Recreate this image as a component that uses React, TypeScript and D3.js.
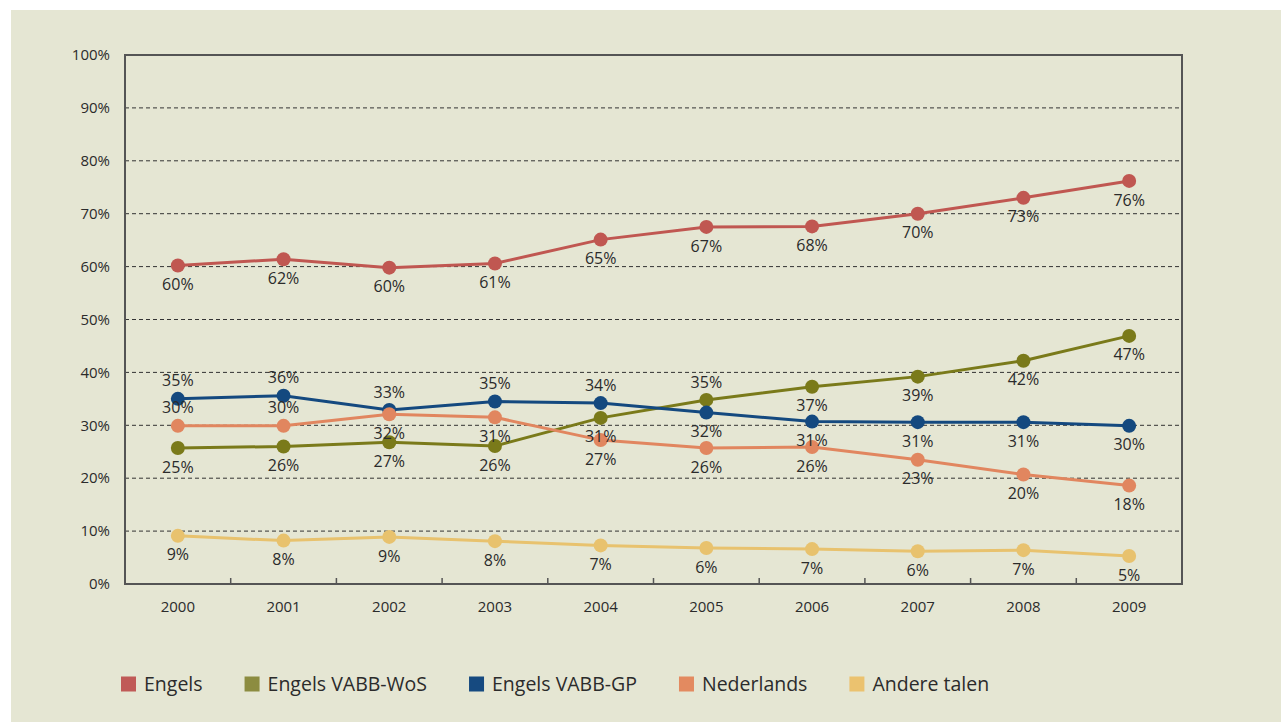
import React, { useEffect, useRef } from 'react';
import * as d3 from 'd3';

const years = ['2000', '2001', '2002', '2003', '2004', '2005', '2006', '2007', '2008', '2009'];

const engels = [60.2, 61.4, 59.8, 60.6, 65.1, 67.5, 67.6, 70.0, 73.0, 76.2];
const engelsWoS = [25.7, 26.0, 26.8, 26.1, 31.4, 34.8, 37.3, 39.2, 42.2, 46.9];
const engelsGP = [35.0, 35.6, 32.9, 34.5, 34.2, 32.4, 30.7, 30.6, 30.6, 29.9];
const nederlands = [29.9, 29.9, 32.1, 31.5, 27.2, 25.7, 25.9, 23.5, 20.7, 18.6];
const andereTalen = [9.1, 8.2, 8.9, 8.1, 7.3, 6.8, 6.6, 6.2, 6.4, 5.3];

const engelsLabels = ['60%', '62%', '60%', '61%', '65%', '67%', '68%', '70%', '73%', '76%'];
const wosLabels = ['25%', '26%', '27%', '26%', '31%', '35%', '37%', '39%', '42%', '47%'];
const gpLabels = ['35%', '36%', '33%', '35%', '34%', '32%', '31%', '31%', '31%', '30%'];
const nedLabels = ['30%', '30%', '32%', '31%', '27%', '26%', '26%', '23%', '20%', '18%'];
const andereLabels = ['9%', '8%', '9%', '8%', '7%', '6%', '7%', '6%', '7%', '5%'];

// which labels sit above their point instead of below
const wosAbove = [false, false, false, false, false, true, false, false, false, false];
const gpAbove = [true, true, true, true, true, false, false, false, false, false];
const nedAbove = [true, true, false, false, false, false, false, false, false, false];
const noneAbove = years.map(() => false);

const yTicks = [0, 10, 20, 30, 40, 50, 60, 70, 80, 90, 100];

interface Series {
    name: string;
    values: number[];
    labels: string[];
    above: boolean[];
    color: string;
    legendColor: string;
}

const series: Series[] = [
    { name: 'Engels', values: engels, labels: engelsLabels, above: noneAbove, color: '#c05751', legendColor: '#c05a57' },
    { name: 'Engels VABB-WoS', values: engelsWoS, labels: wosLabels, above: wosAbove, color: '#7a7a1a', legendColor: '#8c8c40' },
    { name: 'Engels VABB-GP', values: engelsGP, labels: gpLabels, above: gpAbove, color: '#14497f', legendColor: '#164a80' },
    { name: 'Nederlands', values: nederlands, labels: nedLabels, above: nedAbove, color: '#e1865f', legendColor: '#e38a60' },
    { name: 'Andere talen', values: andereTalen, labels: andereLabels, above: noneAbove, color: '#e8c26e', legendColor: '#ebc26f' },
];

const FONT = '"Open Sans", "Noto Sans", sans-serif';

function App() {
    const ref = useRef<SVGSVGElement | null>(null);

    const width = 1281;
    const height = 722;
    const margin = { top: 55, right: 99, bottom: 138, left: 125 };
    const innerW = width - margin.left - margin.right;
    const innerH = height - margin.top - margin.bottom;

    useEffect(() => {
        drawChart();
    }, []);

    function drawChart() {
        const root = d3.select(ref.current);
        root.selectAll('*').remove();

        root.append('rect')
            .attr('x', 11).attr('y', 10)
            .attr('width', width - 11).attr('height', height - 10)
            .attr('fill', '#e5e6d3');

        const svg = root.append('g')
            .attr('transform', `translate(${margin.left}, ${margin.top})`);

        const x = d3.scaleBand().domain(years).range([0, innerW]);
        const y = d3.scaleLinear().domain([0, 100]).range([innerH, 0]);
        const cx = (d: string) => (x(d) as number) + x.bandwidth() / 2;

        // gridlines
        svg.selectAll('.grid')
            .data(yTicks.filter((t) => t > 0 && t < 100))
            .enter()
            .append('line')
            .attr('x1', 0).attr('x2', innerW)
            .attr('y1', (d) => y(d)).attr('y2', (d) => y(d))
            .attr('stroke', '#333')
            .attr('stroke-width', 1)
            .attr('stroke-dasharray', '4,3');

        // frame
        svg.append('rect')
            .attr('x', 0).attr('y', 0)
            .attr('width', innerW).attr('height', innerH)
            .attr('fill', 'none')
            .attr('stroke', '#555')
            .attr('stroke-width', 2);

        // bottom ticks at band boundaries
        svg.selectAll('.xtick')
            .data(years.slice(1))
            .enter()
            .append('line')
            .attr('x1', (d) => x(d) as number).attr('x2', (d) => x(d) as number)
            .attr('y1', innerH).attr('y2', innerH - 6)
            .attr('stroke', '#555')
            .attr('stroke-width', 1.5);

        // y tick labels
        svg.selectAll('.ylabel')
            .data(yTicks)
            .enter()
            .append('text')
            .attr('x', -15)
            .attr('y', (d) => y(d))
            .attr('dy', '0.35em')
            .attr('text-anchor', 'end')
            .style('font-family', FONT)
            .style('font-size', '15px')
            .style('fill', '#2b2b2b')
            .text((d) => `${d}%`);

        // x tick labels
        svg.selectAll('.xlabel')
            .data(years)
            .enter()
            .append('text')
            .attr('x', (d) => cx(d))
            .attr('y', innerH + 23)
            .attr('dy', '0.35em')
            .attr('text-anchor', 'middle')
            .style('font-family', FONT)
            .style('font-size', '15px')
            .style('fill', '#2b2b2b')
            .text((d) => d);

        const line = d3.line<number>()
            .x((_, i) => cx(years[i]))
            .y((d) => y(d));

        series.forEach((s) => {
            const g = svg.append('g');
            g.append('path')
                .attr('d', line(s.values))
                .attr('fill', 'none')
                .attr('stroke', s.color)
                .attr('stroke-width', 3);
            g.selectAll('circle')
                .data(s.values)
                .enter()
                .append('circle')
                .attr('cx', (_, i) => cx(years[i]))
                .attr('cy', (d) => y(d))
                .attr('r', 7)
                .attr('fill', s.color);
        });

        // data labels on top
        series.forEach((s) => {
            svg.append('g')
                .selectAll('text')
                .data(s.values)
                .enter()
                .append('text')
                .attr('x', (_, i) => cx(years[i]))
                .attr('y', (d, i) => y(d) + (s.above[i] ? -18 : 19))
                .attr('dy', '0.35em')
                .attr('text-anchor', 'middle')
                .style('font-family', FONT)
                .style('font-size', '16px')
                .style('fill', '#2b2b2b')
                .text((_, i) => s.labels[i]);
        });

        // legend
        const legend = root.append('g').attr('transform', 'translate(121, 684)');
        let offset = 0;
        series.forEach((s) => {
            const item = legend.append('g').attr('transform', `translate(${offset}, 0)`);
            item.append('rect')
                .attr('x', 0).attr('y', -7.5)
                .attr('width', 15).attr('height', 15)
                .attr('fill', s.legendColor);
            const t = item.append('text')
                .attr('x', 23)
                .attr('y', 0)
                .attr('dy', '0.35em')
                .style('font-family', FONT)
                .style('font-size', '19.5px')
                .style('fill', '#2b2b2b')
                .text(s.name);
            const w = (t.node() as SVGTextElement).getComputedTextLength();
            offset += 23 + w + 42;
        });
    }

    return (
        <div style={{ position: 'absolute', left: 0, top: 0, background: '#fff' }}>
            <svg ref={ref} width={width} height={height} style={{ display: 'block' }} />
        </div>
    );
}

export default App;
